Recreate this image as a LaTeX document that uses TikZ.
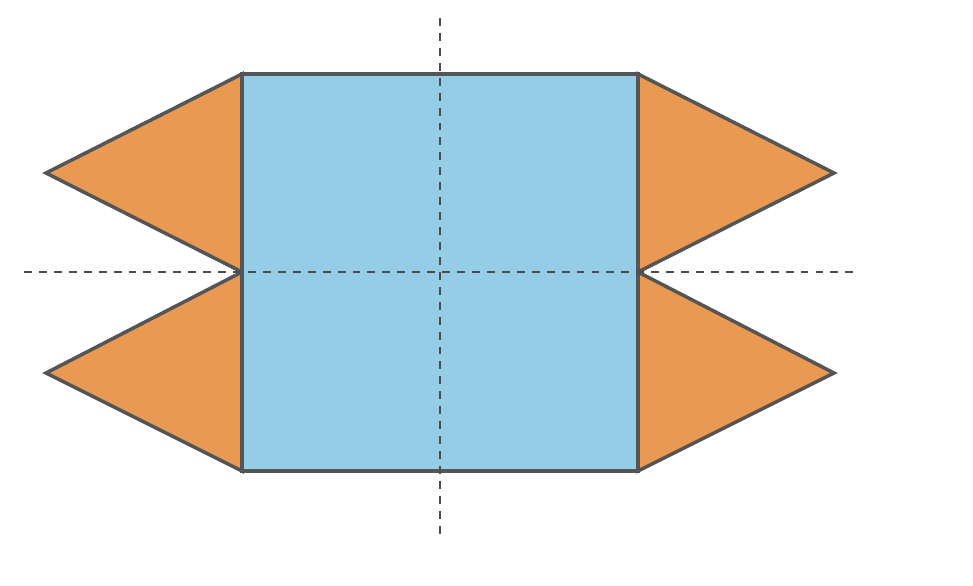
\documentclass[tikz,border=0pt]{standalone}
\definecolor{sqblue}{RGB}{148,205,229}
\definecolor{triorange}{RGB}{234,153,82}
\definecolor{edgegray}{RGB}{85,85,85}
\begin{document}
\begin{tikzpicture}[x=0.02cm,y=-0.02cm,
  facet/.style={draw=edgegray,line width=2pt,line join=miter},
  axisline/.style={draw=edgegray!90!black,line width=1.4pt,dash pattern=on 4.5pt off 4pt}]
\useasboundingbox (0,0) rectangle (973,585);
\fill[white] (0,0) rectangle (973,585);
\coordinate (A) at (242,74);
\coordinate (B) at (638,74);
\coordinate (C) at (638,471);
\coordinate (D) at (242,471);
\coordinate (L) at (242,272);
\coordinate (R) at (638,272);
\coordinate (LT) at (46,173);
\coordinate (LB) at (46,373);
\coordinate (RT) at (834,173);
\coordinate (RB) at (834,373);
\filldraw[facet,fill=triorange] (A) -- (LT) -- (L) -- cycle;
\filldraw[facet,fill=triorange] (L) -- (LB) -- (D) -- cycle;
\filldraw[facet,fill=triorange] (B) -- (RT) -- (R) -- cycle;
\filldraw[facet,fill=triorange] (R) -- (RB) -- (C) -- cycle;
\filldraw[facet,fill=sqblue] (A) -- (B) -- (C) -- (D) -- cycle;
\coordinate (VT) at (440,18);
\coordinate (VB) at (440,540);
\coordinate (HL) at (24,272);
\coordinate (HR) at (856,272);
\draw[axisline] (VT) -- (VB);
\draw[axisline] (HL) -- (HR);
\end{tikzpicture}
\end{document}
